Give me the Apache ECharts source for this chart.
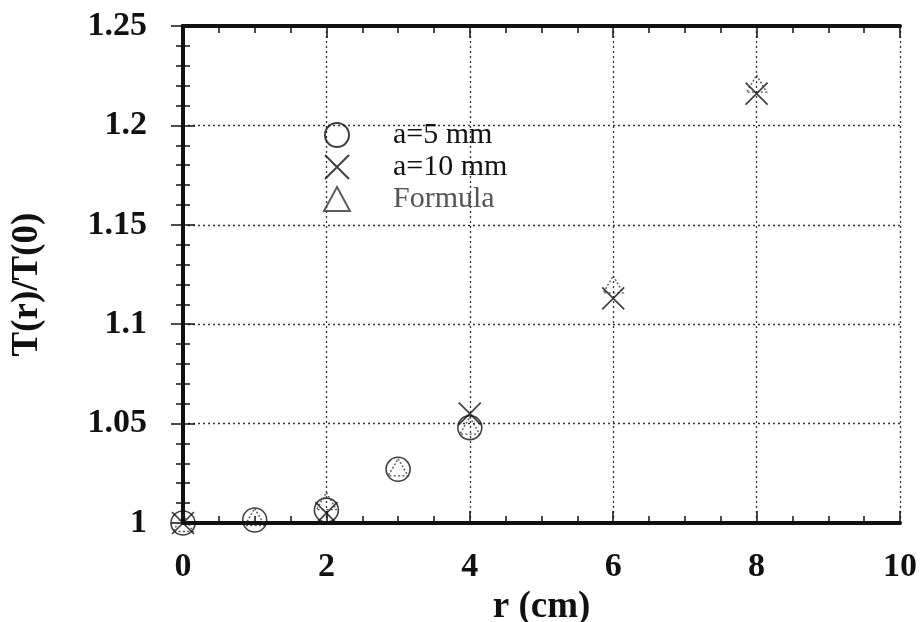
<!DOCTYPE html>
<html><head><meta charset="utf-8">
<script src="https://cdn.jsdelivr.net/npm/echarts@6/dist/echarts.min.js"></script>
<style>html,body{margin:0;padding:0;background:#fff}#c{width:920px;height:622px}</style>
</head><body><div id="c"></div>
<script>
const seriesNames = ['a=5 mm', 'a=10 mm', 'Formula'];
const xA5 = [0, 1, 2, 3, 4];
const yA5 = [1.0, 1.0015, 1.0065, 1.027, 1.048];
const xA10 = [0, 2, 4, 6, 8];
const yA10 = [1.0, 1.005, 1.055, 1.113, 1.216];
const xF = [0, 1, 2, 3, 4, 6, 8];
const yF = [1.0, 1.003, 1.011, 1.028, 1.049, 1.12, 1.221];
const xTicks = [0, 2, 4, 6, 8, 10];
const yTicks = [1, 1.05, 1.1, 1.15, 1.2, 1.25];

function pairs(xs, ys){ return xs.map((x,i)=>[x, ys[i]]); }
const serif = 'Liberation Serif';
const ink = '#111';
const chart = echarts.init(document.getElementById('c'));
const baseAxisLine = {show:true, lineStyle:{color:ink, width:4}};
const majTick = {show:true, inside:true, length:12, lineStyle:{color:ink, width:1.5}};
chart.setOption({
  animation:false,
  backgroundColor:'#fff',
  grid:{left:183, right:20, top:26, bottom:99, containLabel:false, outerBoundsMode:'none'},
  legend:{
    orient:'vertical', left:318, top:114, itemGap:0, itemWidth:26, itemHeight:24,
    data:[
      {name:seriesNames[0]},
      {name:seriesNames[1]},
      {name:seriesNames[2], textStyle:{color:'#555'}}
    ],
    textStyle:{fontFamily:serif, fontSize:30, lineHeight:32, color:ink, padding:[0,0,0,38]}
  },
  xAxis:[{
    type:'value', min:0, max:10, interval:2,
    name:'r (cm)', nameLocation:'middle', nameGap:55,
    nameTextStyle:{fontFamily:serif, fontWeight:'bold', fontSize:37, color:ink},
    axisLine:baseAxisLine,
    axisTick:majTick,
    minorTick:{show:true, splitNumber:4, length:7, lineStyle:{color:ink, width:1.5}},
    axisLabel:{fontFamily:serif, fontWeight:'bold', fontSize:34, color:ink, margin:27,
      formatter:v=>xTicks.includes(v)?String(v):''},
    splitLine:{show:true, lineStyle:{color:'#333', type:[2,3], width:1.3}}
  },{
    type:'value', min:0, max:10, interval:2, position:'top',
    axisLine:baseAxisLine,
    axisTick:majTick,
    minorTick:{show:true, splitNumber:4, length:7, lineStyle:{color:ink, width:1.5}},
    axisLabel:{show:false}, splitLine:{show:false}
  }],
  yAxis:[{
    type:'value', min:1, max:1.25, interval:0.05,
    name:'T(r)/T(0)', nameLocation:'middle', nameGap:137, nameRotate:90,
    nameTextStyle:{fontFamily:serif, fontWeight:'bold', fontSize:37, color:ink, padding:[0,20,0,0]},
    axisLine:baseAxisLine,
    axisTick:majTick,
    minorTick:{show:true, splitNumber:5, length:7, lineStyle:{color:ink, width:1.5}},
    axisLabel:{fontFamily:serif, fontWeight:'bold', fontSize:34, color:ink, margin:36,
      formatter:v=>{const t=yTicks.find(k=>Math.abs(k-v)<1e-9);return t===undefined?'':String(t);}},
    splitLine:{show:true, lineStyle:{color:'#333', type:[2,3], width:1.3}}
  },{
    type:'value', min:1, max:1.25, interval:0.05, position:'right',
    axisLine:baseAxisLine,
    axisTick:majTick,
    minorTick:{show:true, splitNumber:5, length:7, lineStyle:{color:ink, width:1.5}},
    axisLabel:{show:false}, splitLine:{show:false}
  }],
  series:[
    {name:seriesNames[0], type:'scatter', data:pairs(xA5,yA5), symbol:'circle', symbolSize:24,
     itemStyle:{color:'rgba(255,255,255,0)', borderColor:ink, borderWidth:1.6}, z:3},
    {name:seriesNames[1], type:'scatter', data:pairs(xA10,yA10),
     symbol:'path://M0,0L10,10M10,0L0,10', symbolSize:22,
     itemStyle:{color:'rgba(255,255,255,0)', borderColor:ink, borderWidth:1.7}, z:4},
    {name:seriesNames[2], type:'scatter', data:pairs(xF,yF), symbol:'triangle', symbolSize:[20,17],
     itemStyle:{color:'rgba(255,255,255,0)', borderColor:'#333', borderWidth:1.4, borderType:[2,2]}, z:5}
  ]
});
</script></body></html>
